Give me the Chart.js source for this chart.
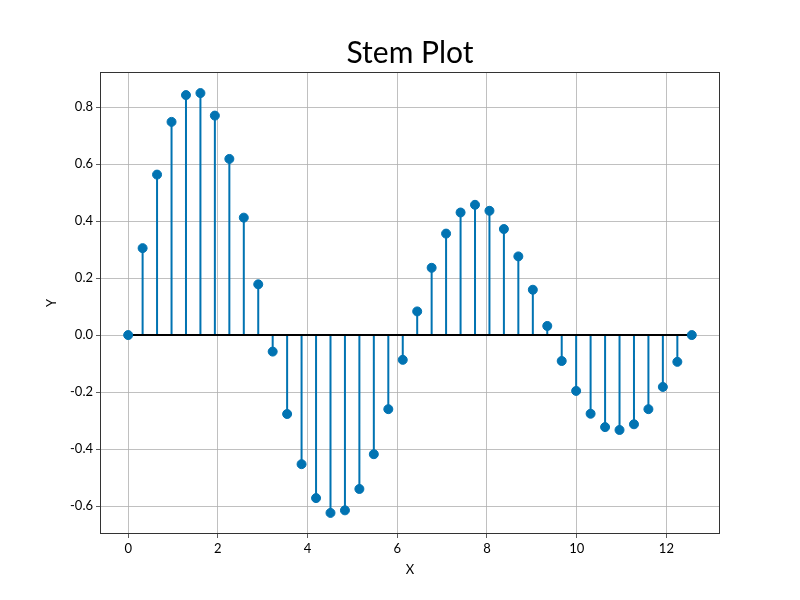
<!doctype html>
<html lang="en">
  <head>
    <meta charset="utf-8">
    <title>Stem Plot</title>
    <script src="https://cdn.jsdelivr.net/npm/chart.js"></script>
    <style>
      html, body { margin: 0; padding: 0; background: #fff; }
      .wrap { width: 800px; height: 600px; }
    </style>
  </head>
  <body>
    <div class="wrap"><canvas id="stemChart" width="800" height="600"></canvas></div>
    <script>
      // values
      const xValues = [0, 0.322, 0.644, 0.967, 1.289, 1.611, 1.933, 2.256, 2.578, 2.900,
                       3.222, 3.544, 3.866, 4.189, 4.511, 4.833, 5.155, 5.477, 5.800, 6.122,
                       6.444, 6.766, 7.088, 7.411, 7.733, 8.055, 8.377, 8.699, 9.022, 9.344,
                       9.666, 9.988, 10.310, 10.633, 10.955, 11.277, 11.599, 11.921, 12.244, 12.566];
      const yValues = [0, 0.305, 0.563, 0.748, 0.842, 0.849, 0.770, 0.618, 0.412, 0.178,
                       -0.058, -0.277, -0.453, -0.572, -0.624, -0.615, -0.540, -0.418, -0.260, -0.087,
                       0.083, 0.236, 0.356, 0.430, 0.457, 0.436, 0.372, 0.276, 0.159, 0.032,
                       -0.091, -0.196, -0.276, -0.323, -0.333, -0.313, -0.260, -0.182, -0.094, 0];
      const xTicks = [0, 2, 4, 6, 8, 10, 12];
      const yTicks = [-0.6, -0.4, -0.2, 0.0, 0.2, 0.4, 0.6, 0.8];
      const titleText = 'Stem Plot';

      const blue = '#0173b2';
      const font = 'Lato, "Noto Sans", sans-serif';

      // stems: (x,0) -> (x,y), broken by a null point
      const stemData = [];
      xValues.forEach((x, i) => {
        stemData.push({ x: x, y: 0 }, { x: x, y: yValues[i] }, { x: x, y: null });
      });
      const markerData = xValues.map((x, i) => ({ x: x, y: yValues[i] }));
      const baseData = [{ x: xValues[0], y: 0 }, { x: xValues[xValues.length - 1], y: 0 }];

      // box round the plot area, title centred over it
      const frame = {
        id: 'frame',
        afterDraw(chart) {
          const a = chart.chartArea, ctx = chart.ctx;
          ctx.save();
          ctx.strokeStyle = '#333';
          ctx.lineWidth = 1;
          ctx.strokeRect(a.left + 0.5, a.top + 0.5, a.right - a.left - 1, a.bottom - a.top - 1);
          ctx.fillStyle = '#000';
          ctx.font = '30px ' + font;
          ctx.textAlign = 'center';
          ctx.textBaseline = 'middle';
          ctx.fillText(titleText, (a.left + a.right) / 2, 53);
          ctx.restore();
        }
      };

      new Chart(document.getElementById('stemChart'), {
        type: 'scatter',
        data: {
          datasets: [
            { type: 'line', data: stemData, borderColor: blue, borderWidth: 2, pointRadius: 0, spanGaps: false, fill: false, order: 3 },
            { type: 'line', data: baseData, borderColor: '#000', borderWidth: 2, pointRadius: 0, fill: false, order: 2 },
            { type: 'scatter', data: markerData, backgroundColor: blue, borderColor: blue, pointRadius: 4.5, order: 1 }
          ]
        },
        options: {
          responsive: false,
          animation: false,
          layout: { padding: { left: 0, right: 80, top: 72, bottom: 0 } },
          plugins: {
            legend: { display: false },
            tooltip: { enabled: false },
            title: { display: false }
          },
          scales: {
            x: {
              type: 'linear',
              min: -0.628,
              max: 13.195,
              afterFit(s) { s.height = 66; },
              afterBuildTicks(s) { s.ticks = xTicks.map(v => ({ value: v })); },
              grid: { color: '#b0b0b0', lineWidth: 0.8, tickColor: '#333', tickLength: 4, drawTicks: true },
              border: { display: false },
              ticks: { color: '#000', font: { family: font, size: 13 }, padding: 3, maxRotation: 0, callback: v => String(v) },
              title: { display: true, text: 'X', color: '#000', font: { family: font, size: 13 }, padding: { top: 4, bottom: 22 } }
            },
            y: {
              type: 'linear',
              min: -0.698,
              max: 0.923,
              afterFit(s) { s.width = 100; },
              afterBuildTicks(s) { s.ticks = yTicks.map(v => ({ value: v })); },
              grid: { color: '#b0b0b0', lineWidth: 0.8, tickColor: '#333', tickLength: 4, drawTicks: true },
              border: { display: false },
              ticks: { color: '#000', font: { family: font, size: 13 }, padding: 3, callback: v => v.toFixed(1) },
              title: { display: true, text: 'Y', color: '#000', font: { family: font, size: 13 }, padding: { top: 44, bottom: 0 } }
            }
          }
        },
        plugins: [frame]
      });
    </script>
  </body>
</html>
